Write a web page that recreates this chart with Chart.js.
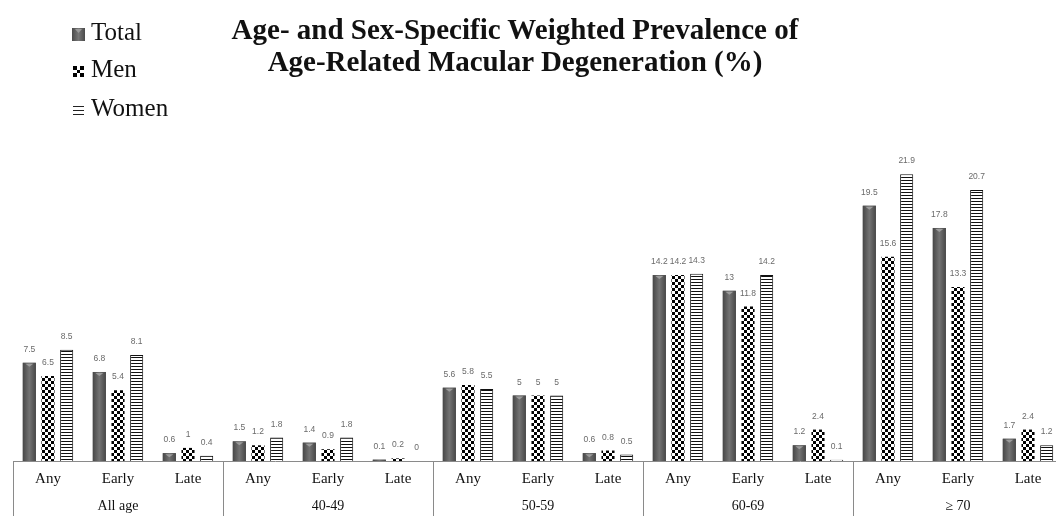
<!DOCTYPE html>
<html lang="en">
<head>
    <meta charset="UTF-8">
    <title>AMD prevalence</title>
    <script src="https://cdn.jsdelivr.net/npm/chart.js"></script>
    <style>
        html, body { margin: 0; padding: 0; background: #fff; overflow: hidden; }
        #wrap { position: relative; width: 1070px; height: 516px; }
        #title {
            position: absolute; left: 165px; top: 13px; width: 700px;
            text-align: center; font: bold 29px "Liberation Serif", serif;
            line-height: 32px; color: #111;
        }
        .leg {
            position: absolute; left: 72px; font: 25px "Liberation Serif", serif;
            color: #111; line-height: 28px;
        }
        .leg canvas { vertical-align: -1px; margin-right: 6px; }
    </style>
</head>
<body>
<div id="wrap">
    <canvas id="amdChart" width="1070" height="516"></canvas>
    <div id="title">Age- and Sex-Specific Weighted Prevalence of<br>Age-Related Macular Degeneration (%)</div>
    <div class="leg" style="top:18px"><canvas id="icoTotal" width="13" height="13"></canvas>Total</div>
    <div class="leg" style="top:55px"><canvas id="icoMen" width="13" height="13"></canvas>Men</div>
    <div class="leg" style="top:94px"><canvas id="icoWomen" width="13" height="13"></canvas>Women</div>
</div>

<script>
    const groups = ['All age', '40-49', '50-59', '60-69', '\u2265 70'];
    const subtypes = ['Any', 'Early', 'Late'];
    const total = [7.5, 6.8, 0.6, 1.5, 1.4, 0.1, 5.6, 5, 0.6, 14.2, 13, 1.2, 19.5, 17.8, 1.7];
    const men   = [6.5, 5.4, 1, 1.2, 0.9, 0.2, 5.8, 5, 0.8, 14.2, 11.8, 2.4, 15.6, 13.3, 2.4];
    const women = [8.5, 8.1, 0.4, 1.8, 1.8, 0, 5.5, 5, 0.5, 14.3, 14.2, 0.1, 21.9, 20.7, 1.2];

    const labels = [];
    groups.forEach(() => subtypes.forEach(s => labels.push(s)));

    // fill patterns
    function checker(ctx) {
        const c = document.createElement('canvas');
        c.width = c.height = 6;
        const g = c.getContext('2d');
        g.fillStyle = '#fff'; g.fillRect(0, 0, 6, 6);
        g.fillStyle = '#000'; g.fillRect(0, 0, 3, 3); g.fillRect(3, 3, 3, 3);
        return ctx.createPattern(c, 'repeat');
    }
    function stripes(ctx) {
        const c = document.createElement('canvas');
        c.width = 4; c.height = 3;
        const g = c.getContext('2d');
        g.fillStyle = '#fff'; g.fillRect(0, 0, 4, 3);
        g.fillStyle = '#111'; g.fillRect(0, 0, 4, 1);
        return ctx.createPattern(c, 'repeat');
    }

    // legend icons
    (function () {
        let g = document.getElementById('icoTotal').getContext('2d');
        let gr = g.createLinearGradient(0, 0, 13, 0);
        gr.addColorStop(0, '#4a4a4a'); gr.addColorStop(0.5, '#777'); gr.addColorStop(1, '#4a4a4a');
        g.fillStyle = gr; g.fillRect(0, 0, 13, 13);
        g.fillStyle = '#9a9a9a';
        g.beginPath(); g.moveTo(3, 1); g.lineTo(10, 1); g.lineTo(6.5, 5); g.fill();

        g = document.getElementById('icoMen').getContext('2d');
        g.fillStyle = '#fff'; g.fillRect(0, 0, 13, 13);
        g.fillStyle = '#000';
        g.fillRect(1, 1, 4, 4); g.fillRect(8, 1, 4, 4); g.fillRect(1, 8, 4, 4); g.fillRect(8, 8, 4, 4);
        g.fillRect(5, 5, 3, 3);

        g = document.getElementById('icoWomen').getContext('2d');
        g.fillStyle = '#fff'; g.fillRect(0, 0, 13, 13);
        g.strokeStyle = '#222'; g.lineWidth = 1;
        g.beginPath();
        g.moveTo(1, 2.5); g.lineTo(12, 2.5); g.moveTo(1, 6.5); g.lineTo(12, 6.5); g.moveTo(1, 10.5); g.lineTo(12, 10.5);
        g.stroke();
    })();

    const barLook = {
        id: 'barLook',
        afterDatasetsDraw(chart) {
            const ctx = chart.ctx;
            const meta = chart.getDatasetMeta(0);
            ctx.save();
            meta.data.forEach(el => {
                const w = el.width, x0 = el.x - w / 2, h = el.base - el.y;
                if (h <= 0) return;
                const gr = ctx.createLinearGradient(x0, 0, x0 + w, 0);
                gr.addColorStop(0, '#474747');
                gr.addColorStop(0.5, '#737373');
                gr.addColorStop(1, '#474747');
                ctx.fillStyle = gr;
                ctx.fillRect(x0, el.y, w, h);
                if (h > 5) {
                    ctx.fillStyle = '#9c9c9c';
                    ctx.beginPath();
                    ctx.moveTo(el.x - w * 0.3, el.y + 1);
                    ctx.lineTo(el.x + w * 0.3, el.y + 1);
                    ctx.lineTo(el.x, el.y + 4);
                    ctx.fill();
                }
            });
            // value labels
            ctx.font = '8.5px "Liberation Sans", sans-serif';
            ctx.fillStyle = '#6a6a6a';
            ctx.textAlign = 'center';
            ctx.textBaseline = 'bottom';
            chart.data.datasets.forEach((ds, i) => {
                chart.getDatasetMeta(i).data.forEach((el, j) => {
                    ctx.fillText(String(ds.data[j]), el.x, el.y - 9);
                });
            });
            ctx.restore();
        },
        afterDraw(chart) {
            const ctx = chart.ctx, x = chart.scales.x, area = chart.chartArea;
            ctx.save();
            ctx.strokeStyle = '#8a8a8a';
            ctx.lineWidth = 1;
            ctx.beginPath();
            ctx.moveTo(area.left, area.bottom + 0.5);
            ctx.lineTo(area.right, area.bottom + 0.5);
            for (let i = 0; i <= groups.length; i++) {
                const px = Math.round(x.getPixelForValue(i * subtypes.length - 0.5)) + 0.5;
                ctx.moveTo(px, area.bottom);
                ctx.lineTo(px, chart.height);
            }
            ctx.stroke();
            ctx.restore();
        }
    };

    const ctx = document.getElementById('amdChart').getContext('2d');
    new Chart(ctx, {
        type: 'bar',
        data: {
            labels: labels,
            datasets: [
                { label: 'Total', data: total, backgroundColor: '#5a5a5a' },
                { label: 'Men', data: men, backgroundColor: checker(ctx) },
                { label: 'Women', data: women, backgroundColor: stripes(ctx),
                  borderColor: '#111', borderWidth: { left: 1, right: 1, top: 1, bottom: 0 } }
            ]
        },
        options: {
            responsive: false,
            animation: false,
            layout: { padding: { left: 13, right: 7, top: 173, bottom: 0 } },
            datasets: { bar: { categoryPercentage: 0.8, barPercentage: 0.7 } },
            plugins: { legend: { display: false }, tooltip: { enabled: false } },
            scales: {
                y: { display: false, min: 0, max: 22 },
                x: {
                    grid: { display: false, drawTicks: false },
                    border: { display: false },
                    afterFit: s => { s.height = 28; },
                    ticks: { color: '#111', padding: 9, font: { family: 'Liberation Serif', size: 15 } }
                },
                x2: {
                    type: 'category',
                    labels: groups,
                    offset: true,
                    position: 'bottom',
                    grid: { display: false, drawTicks: false },
                    border: { display: false },
                    afterFit: s => { s.height = 27; },
                    ticks: { color: '#111', padding: 9, font: { family: 'Liberation Serif', size: 14 } }
                }
            }
        },
        plugins: [barLook]
    });
</script>
</body>
</html>
